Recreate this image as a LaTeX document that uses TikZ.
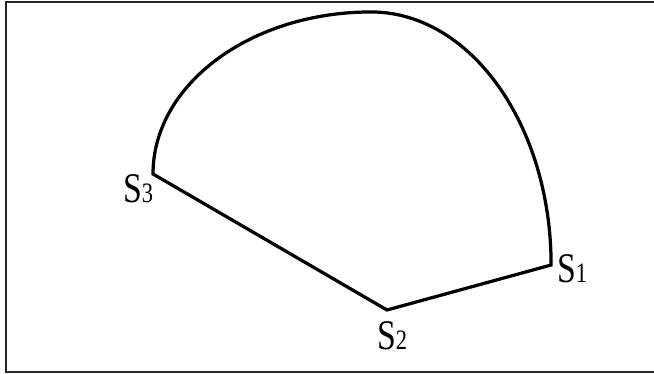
\documentclass[tikz,border=0pt]{standalone}
\usepackage{fontspec}
\setmainfont{Liberation Serif}
\newcommand{\sidx}[1]{{\fontsize{20}{20}\selectfont #1}}

\begin{document}
\begin{tikzpicture}[x=0.025cm, y=0.025cm, lbl/.style={font=\fontsize{30}{30}\selectfont, inner sep=0pt, xscale=0.8, anchor=base west}]
    \useasboundingbox (0,0) rectangle (654,374);
    \clip (0,0) rectangle (654,374);
    % frame, open to the right
    \draw[black!85, line width=1.4pt] (670,372.3) -- (6,372.3) -- (6,1.7) -- (670,1.7);
    \coordinate (S1) at (551,109);
    \coordinate (S2) at (387,64);
    \coordinate (S3) at (153,200);
    \draw[line width=2.3pt, line join=miter] (S3) arc[start angle=180, end angle=90, x radius=5.45cm, y radius=4.05cm]
        arc[start angle=90, end angle=0, x radius=4.5cm, y radius=6.325cm] -- (S2) -- cycle;
    \node[lbl] (L1) at (557,91) {S\sidx{1}};
    \node[lbl] (L2) at (377,24) {S\sidx{2}};
    \node[lbl] (L3) at (123,171) {S\sidx{3}};
\end{tikzpicture}
\end{document}
